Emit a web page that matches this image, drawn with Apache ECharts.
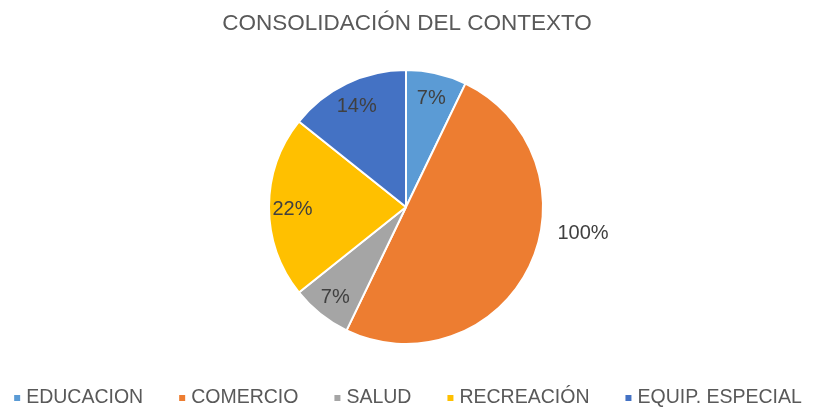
<!DOCTYPE html>
<html><head><meta charset="utf-8">
<script src="https://cdn.jsdelivr.net/npm/echarts@6/dist/echarts.min.js"></script>
<style>html,body{margin:0;padding:0;background:#fff}#c{width:814px;height:409px}</style>
</head><body><div id="c"></div>
<script>
var categories = ['EDUCACION', 'COMERCIO', 'SALUD', 'RECREACIÓN', 'EQUIP. ESPECIAL'];
var values = [1, 7, 1, 3, 2];
var labelTexts = ['7%', '100%', '7%', '22%', '14%'];
var colors = ['#5B9BD5', '#ED7D31', '#A5A5A5', '#FFC000', '#4472C4'];
var titleText = 'CONSOLIDACIÓN DEL CONTEXTO';

var font = '"Liberation Sans", Arial, sans-serif';
var data = categories.map(function (c, i) { return { name: c, value: values[i] }; });
var chart = echarts.init(document.getElementById('c'), null, { renderer: 'canvas' });
chart.setOption({
  animation: false,
  color: colors,
  title: { text: titleText, left: 'center', top: 7,
    textStyle: { fontFamily: font, fontSize: 22.5, fontWeight: 'normal', color: '#595959' } },
  legend: { top: 383, left: 'center', icon: 'rect', itemWidth: 8, itemHeight: 8, itemGap: 34,
    textStyle: { fontFamily: font, fontSize: 19.5, color: '#595959' }, data: categories },
  series: [{
    type: 'pie', center: [406, 207], radius: 137, startAngle: 90, clockwise: true,
    label: { show: false }, labelLine: { show: false },
    itemStyle: { borderColor: '#fff', borderWidth: 2 },
    data: data, silent: true
  }, {
    type: 'pie', center: [406, 209], radius: [84, 137], startAngle: 90, clockwise: true,
    itemStyle: { color: 'rgba(0,0,0,0)' }, silent: true, legendHoverLink: false,
    label: { show: true, position: 'inside', fontFamily: font, fontSize: 20, color: '#404040',
      formatter: function (p) { return labelTexts[p.dataIndex]; } },
    labelLine: { show: false },
    labelLayout: function (p) {
      if (p.dataIndex === 1) return { x: 583, y: 233, align: 'center', verticalAlign: 'middle' };
    },
    data: data.map(function (d) { return { name: d.name + ' ', value: d.value }; })
  }]
});
</script></body></html>
